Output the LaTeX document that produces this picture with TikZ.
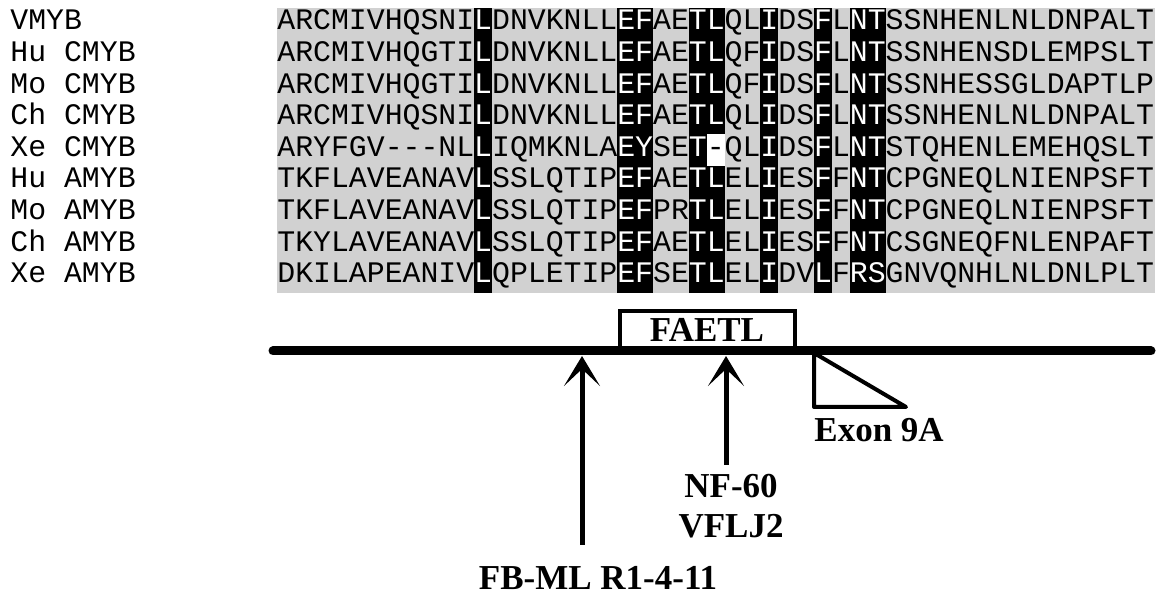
\documentclass[tikz,border=0pt]{standalone}
\usepackage{fontspec}
\setmainfont{Liberation Serif}
\setmonofont{Liberation Mono}
\usepackage{tikz}
\usetikzlibrary{arrows.meta,positioning}
\definecolor{alnGrey}{gray}{0.82}
\newcommand{\alnfont}{\ttfamily\fontsize{14.91}{16}\selectfont}
\newcommand{\tagfont}{\bfseries\fontsize{17.5}{20}\selectfont}
\newcommand{\alnrows}{VMYB/ARCMIVHQSNILDNVKNLLEFAETLQLIDSFLNTSSNHENLNLDNPALT,
  Hu CMYB/ARCMIVHQGTILDNVKNLLEFAETLQFIDSFLNTSSNHENSDLEMPSLT,
  Mo CMYB/ARCMIVHQGTILDNVKNLLEFAETLQFIDSFLNTSSNHESSGLDAPTLP,
  Ch CMYB/ARCMIVHQSNILDNVKNLLEFAETLQLIDSFLNTSSNHENLNLDNPALT,
  Xe CMYB/ARYFGV---NLLIQMKNLAEYSET-QLIDSFLNTSTQHENLEMEHQSLT,
  Hu AMYB/TKFLAVEANAVLSSLQTIPEFAETLELIESFFNTCPGNEQLNIENPSFT,
  Mo AMYB/TKFLAVEANAVLSSLQTIPEFPRTLELIESFFNTCPGNEQLNIENPSFT,
  Ch AMYB/TKYLAVEANAVLSSLQTIPEFAETLELIESFFNTCSGNEQFNLENPAFT,
  Xe AMYB/DKILAPEANIVLQPLETIPEFSETLELIDVLFRSGNVQNHLNLDNLPLT}

\begin{document}
\begin{tikzpicture}[
    x=0.5pt, y=-0.5pt,
    seq/.style={anchor=base west, inner sep=0pt, font=\alnfont},
    tag/.style={inner sep=0pt, font=\tagfont},
    ptr/.style={-{Stealth[length=15pt, width=18pt, inset=8.5pt]}, line width=2.5pt},
  ]
  \useasboundingbox (0,0) rectangle (1156,597);

  % alignment block and conserved columns
  \fill[alnGrey] (277,8) rectangle (1155,293);
  \foreach \a/\b in {12/12,20/21,24/25,28/28,31/31,33/34}
    \fill[black] ({277+(\a-1)*17.9},8) rectangle ({277+\b*17.9},293);
  \fill[white] ({277+24*17.9},{8+4*31.6}) rectangle ({277+25*17.9},{8+5*31.6});

  \foreach \name/\res [count=\r] in \alnrows {
    \node[seq] (n\r) at (10,{30+(\r-1)*31.6}) {\name};
    \node[seq] (s\r) at (277,{30+(\r-1)*31.6}) {\res};
  }

  % white letters inside the black columns
  \begin{scope}
    \clip \foreach \a/\b in {12/12,20/21,24/24,28/28,31/31,33/34}
            {({277+(\a-1)*17.9},8) rectangle ({277+\b*17.9},293)}
          ({277+24*17.9},8) rectangle ({277+25*17.9},{8+4*31.6})
          ({277+24*17.9},{8+5*31.6}) rectangle ({277+25*17.9},293);
    \foreach \name/\res [count=\r] in \alnrows
      \node[seq, text=white] (w\r) at (277,{30+(\r-1)*31.6}) {\res};
  \end{scope}

  % protein line
  \coordinate (lineL) at (273,351);
  \coordinate (lineR) at (1151,351);
  \node[draw, line width=2pt, tag, minimum width=87.5pt, minimum height=19pt,
        anchor=south] (motif) at (707,351) {FAETL};
  \draw[line width=4.5pt, line cap=round] (lineL) -- (lineR);

  % exon 9A
  \coordinate (exTop) at (814,353);
  \coordinate (exLow) at (814,407);
  \coordinate (exEnd) at (906,407);
  \draw[line width=2pt, line join=round] (exTop) -- (exLow) -- (exEnd) -- cycle;
  \node[tag, anchor=base west] (exon) at (814,442) {Exon 9A};

  % antibody sites
  \coordinate (fbTail) at (582,545);
  \coordinate (fbTip) at (582,356);
  \coordinate (nfTail) at (726,465);
  \coordinate (nfTip) at (726,356);
  \draw[ptr] (fbTail) -- (fbTip);
  \draw[ptr] (nfTail) -- (nfTip);
  \node[tag, align=center, anchor=north] (nf) at (731,474) {NF-60\\VFLJ2};
  \node[tag, anchor=base] (fbml) at (598,590) {FB-ML R1-4-11};

\end{tikzpicture}
\end{document}
